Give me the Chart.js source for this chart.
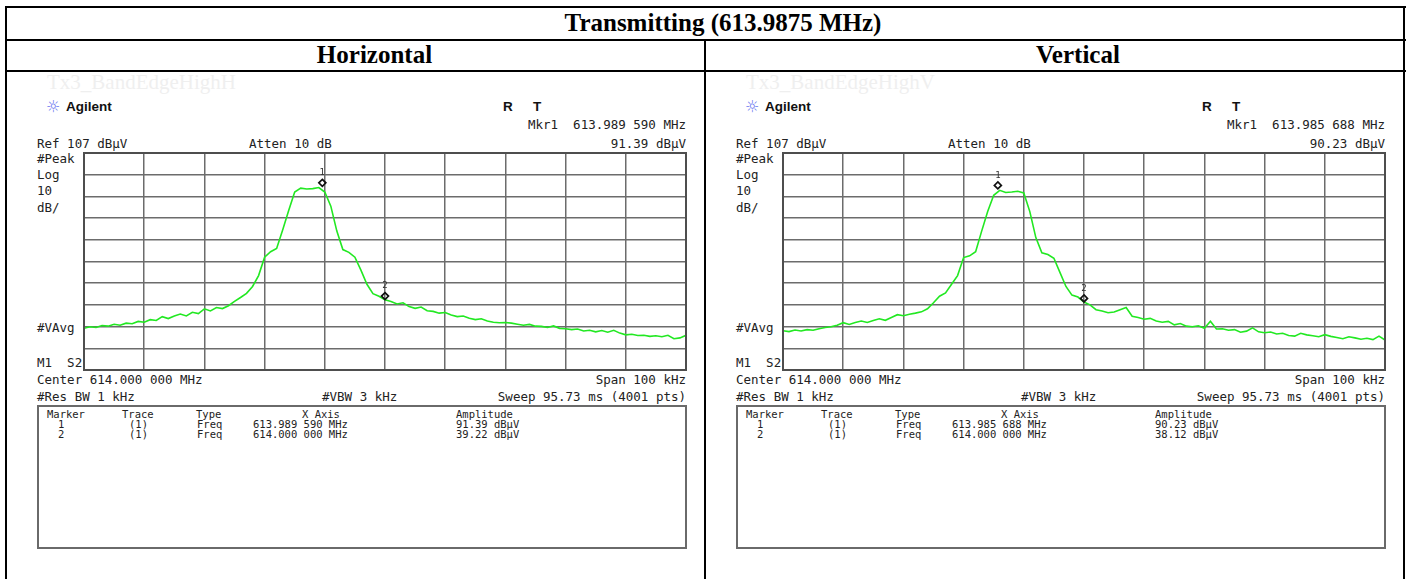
<!DOCTYPE html>
<html>
<head>
<meta charset="utf-8">
<script src="https://cdn.jsdelivr.net/npm/chart.js@4/dist/chart.umd.min.js"></script>
<style>
  html, body { margin: 0; padding: 0; background: #fff; }
  body { width: 1411px; height: 579px; position: relative; overflow: hidden; }
  .ln { position: absolute; background: #000; }
  .hd { position: absolute; font-family: "Liberation Serif", "Times New Roman", serif; font-weight: bold; font-size: 25px; line-height: 28px; color: #000; white-space: pre; }
  .wm { position: absolute; font-family: "Liberation Serif", serif; font-size: 21px; line-height: 22px; color: #efefef; white-space: pre; }
  .sa { position: absolute; font-family: "DejaVu Sans Mono", monospace; font-size: 12.5px; line-height: 14px; color: #222; white-space: pre; }
  .sm { position: absolute; font-family: "DejaVu Sans Mono", monospace; font-size: 10.5px; line-height: 11px; color: #222; white-space: pre; }
  .bold { position: absolute; font-family: "Liberation Sans", Arial, sans-serif; font-weight: bold; font-size: 13.5px; line-height: 14px; color: #111; white-space: pre; }
  .ico { position: absolute; font-family: "DejaVu Sans", sans-serif; font-size: 16px; line-height: 16px; color: #6a78f0; }
  .box { position: absolute; border: 2px solid #6a6a6a; box-sizing: border-box; background: #fff; }
  canvas { position: absolute; }
</style>
</head>
<body>
<!-- table frame -->
<div class="ln" style="left:5px;top:6px;width:1401px;height:2px"></div>
<div class="ln" style="left:5px;top:39px;width:1401px;height:2px"></div>
<div class="ln" style="left:5px;top:70px;width:1401px;height:2px"></div>
<div class="ln" style="left:5px;top:6px;width:2px;height:573px"></div>
<div class="ln" style="left:1403px;top:6px;width:2px;height:573px"></div>
<div class="ln" style="left:704px;top:39px;width:2px;height:540px"></div>

<div class="hd" style="left:0;width:1446px;top:9px;text-align:center">Transmitting (613.9875 MHz)</div>
<div class="hd" style="left:0;width:749px;top:41px;text-align:center">Horizontal</div>
<div class="hd" style="left:705px;width:746px;top:41px;text-align:center">Vertical</div>

<div id="panels"></div>

<script>
// Analyzer sweep: center 614.000 MHz, span 100 kHz, reference 107 dBuV, 10 dB/div
const centerMHz = 614.0;
const refLevel = 107;
const offsetKHz = [-50,-49,-48,-47,-46,-45,-44,-43,-42,-41,-40,-39,-38,-37,-36,-35,-34,-33,-32,-31,
  -30,-29,-28,-27,-26,-25,-24,-23,-22,-21,-20,-19,-18,-17,-16,-15,-14,-13,-12,-11,
  -10,-9,-8,-7,-6,-5,-4,-3,-2,-1,0,1,2,3,4,5,6,7,8,9,
  10,11,12,13,14,15,16,17,18,19,20,21,22,23,24,25,26,27,28,29,
  30,31,32,33,34,35,36,37,38,39,40,41,42,43,44,45,46,47,48,49,50];
const xGridKHz = [-50,-40,-30,-20,-10,0,10,20,30,40,50];
const yGridDb = [7,17,27,37,47,57,67,77,87,97,107];

// Trace 1, horizontal antenna (dBuV)
const traceH = [26.2,26.9,26.6,27.5,27.2,28.1,27.6,28.6,28.3,29.4,
  29.0,30.2,29.8,31.6,30.7,31.9,32.8,31.9,33.6,33.0,
  35.2,34.2,35.8,35.3,36.6,38.6,40.4,42.3,45.5,50.5,
  59.0,61.5,63.0,71.5,80.5,89.0,90.8,90.4,90.6,91.1,
  89.0,82.5,71.0,62.5,61.2,59.0,53.0,46.5,42.2,41.0,
  39.4,38.6,37.4,38.0,36.2,35.4,36.0,34.3,34.0,33.2,
  33.5,32.3,31.6,31.9,30.8,30.2,30.6,29.6,29.0,28.8,
  28.9,28.6,28.1,27.6,28.0,27.2,27.1,26.6,27.3,26.2,
  26.0,25.6,25.9,25.0,25.3,24.6,25.2,24.4,25.3,24.0,
  23.2,23.5,22.9,23.0,22.5,22.8,22.3,23.0,21.4,21.8,23.0];

// Trace 1, vertical antenna (dBuV)
const traceV = [25.1,24.7,25.4,25.0,25.6,25.3,26.0,26.6,26.9,27.6,
  28.8,28.0,28.9,29.6,28.9,29.8,30.6,29.9,31.2,32.5,
  32.0,32.7,33.2,33.8,35.2,38.0,41.0,42.5,46.5,50.5,
  58.8,59.6,61.5,71.0,80.0,87.5,89.8,88.8,89.0,89.4,
  88.6,80.0,68.0,61.0,60.2,58.5,52.0,45.5,41.5,40.6,
  38.3,37.0,34.8,34.2,33.4,33.7,34.8,35.8,31.8,31.2,
  30.4,30.8,29.6,29.0,29.4,27.8,28.4,27.2,26.9,27.4,
  26.2,29.5,25.9,26.0,25.3,25.6,24.4,24.9,26.4,24.6,
  24.2,24.5,23.6,23.9,22.9,22.6,23.9,23.2,22.8,22.3,
  23.3,22.5,22.0,21.4,22.3,21.8,21.2,21.6,21.0,22.6,20.8];

// Marker readouts
const markerMHzH = [613.989590, 614.000000];
const markerDbH = [91.39, 39.22];
const markerMHzV = [613.985688, 614.000000];
const markerDbV = [90.23, 38.12];

function fmtMHz(v) {
  const s = v.toFixed(6);
  return s.slice(0, s.length - 3) + ' ' + s.slice(s.length - 3) + ' MHz';
}
function fmtDb(v) { return v.toFixed(2) + ' dB\u00b5V'; }

const markerPlugin = {
  id: 'mkr',
  afterDatasetsDraw(chart, args, opts) {
    const { ctx, chartArea: a, scales: { x, y } } = chart;
    ctx.save();
    ctx.strokeStyle = '#4e4e4e';
    ctx.lineWidth = 2;
    ctx.strokeRect(a.left, a.top, a.right - a.left, a.bottom - a.top);
    opts.freqs.forEach((f, i) => {
      const px = x.getPixelForValue((f - centerMHz) * 1000);
      const py = y.getPixelForValue(opts.levels[i]) - 4;
      ctx.strokeStyle = '#111';
      ctx.lineWidth = 1.7;
      ctx.beginPath();
      ctx.moveTo(px, py - 3.5); ctx.lineTo(px + 3.5, py);
      ctx.lineTo(px, py + 3.5); ctx.lineTo(px - 3.5, py);
      ctx.closePath(); ctx.stroke();
      ctx.fillStyle = '#333';
      ctx.font = '9px "DejaVu Sans Mono"';
      ctx.textAlign = 'center';
      ctx.textBaseline = 'middle';
      ctx.fillText(String(i + 1), px, py - 10);
    });
    ctx.restore();
  }
};

function buildPanel(dx, cfg) {
  const root = document.getElementById('panels');
  const add = (cls, x, y, txt, align) => {
    const d = document.createElement('div');
    d.className = cls;
    d.textContent = txt;
    if (align === 'right') { d.style.right = (1411 - (x + dx)) + 'px'; }
    else { d.style.left = (x + dx) + 'px'; }
    d.style.top = y + 'px';
    root.appendChild(d);
    return d;
  };
  add('wm', 47, 71, cfg.tag);
  add('ico', 46, 99, '\u263C');
  add('bold', 66, 100, 'Agilent');
  add('bold', 503, 100, 'R');
  add('bold', 533, 100, 'T');
  add('sa', 686, 118, 'Mkr1  ' + fmtMHz(cfg.mFreq[0]), 'right');
  add('sa', 37, 137, 'Ref ' + refLevel + ' dB\u00b5V');
  add('sa', 249, 137, 'Atten 10 dB');
  add('sa', 686, 137, fmtDb(cfg.mDb[0]), 'right');
  add('sa', 37, 152, '#Peak');
  add('sa', 37, 168, 'Log');
  add('sa', 37, 184, '10');
  add('sa', 37, 201, 'dB/');
  add('sa', 37, 321, '#VAvg');
  add('sa', 37, 356, 'M1  S2');
  add('sa', 37, 373, 'Center 614.000 000 MHz');
  add('sa', 686, 373, 'Span 100 kHz', 'right');
  add('sa', 37, 390, '#Res BW 1 kHz');
  add('sa', 322, 390, '#VBW 3 kHz');
  add('sa', 686, 390, 'Sweep 95.73 ms (4001 pts)', 'right');

  const box = document.createElement('div');
  box.className = 'box';
  box.style.left = (37 + dx) + 'px'; box.style.top = '405px';
  box.style.width = '650px'; box.style.height = '144px';
  root.appendChild(box);
  add('sm', 47, 409, 'Marker');
  add('sm', 122, 409, 'Trace');
  add('sm', 196, 409, 'Type');
  add('sm', 302, 409, 'X Axis');
  add('sm', 456, 409, 'Amplitude');
  cfg.mFreq.forEach((f, i) => {
    const ty = 419 + i * 10;
    add('sm', 58, ty, String(i + 1));
    add('sm', 129, ty, '(1)');
    add('sm', 197, ty, 'Freq');
    add('sm', 253, ty, fmtMHz(f));
    add('sm', 456, ty, fmtDb(cfg.mDb[i]));
  });

  const cv = document.createElement('canvas');
  cv.width = 622; cv.height = 252;
  cv.style.left = (74 + dx) + 'px'; cv.style.top = '128px';
  root.appendChild(cv);

  new Chart(cv.getContext('2d'), {
    type: 'line',
    data: {
      datasets: [{
        data: offsetKHz.map((k, i) => ({ x: k, y: cfg.trace[i] })),
        borderColor: '#22e822',
        borderWidth: 1.6,
        pointRadius: 0,
        tension: 0,
        fill: false
      }]
    },
    options: {
      responsive: false,
      animation: false,
      devicePixelRatio: 1,
      layout: { padding: { left: 10, top: 25, right: 10, bottom: 10 } },
      plugins: {
        legend: { display: false },
        tooltip: { enabled: false },
        mkr: { freqs: cfg.mFreq, levels: cfg.mDb }
      },
      scales: {
        x: {
          type: 'linear', min: -50, max: 50,
          afterBuildTicks: s => { s.ticks = xGridKHz.map(v => ({ value: v })); },
          afterFit: s => { s.height = 0; },
          ticks: { display: false },
          grid: { color: '#6c6c6c', lineWidth: 1.5, drawTicks: false },
          border: { display: false }
        },
        y: {
          type: 'linear', min: yGridDb[0], max: refLevel,
          afterBuildTicks: s => { s.ticks = yGridDb.map(v => ({ value: v })); },
          afterFit: s => { s.width = 0; },
          ticks: { display: false },
          grid: { color: '#6c6c6c', lineWidth: 1.5, drawTicks: false },
          border: { display: false }
        }
      }
    },
    plugins: [markerPlugin]
  });
}

buildPanel(0, { tag: 'Tx3_BandEdgeHighH', trace: traceH, mFreq: markerMHzH, mDb: markerDbH });
buildPanel(699, { tag: 'Tx3_BandEdgeHighV', trace: traceV, mFreq: markerMHzV, mDb: markerDbV });
</script>
</body>
</html>
